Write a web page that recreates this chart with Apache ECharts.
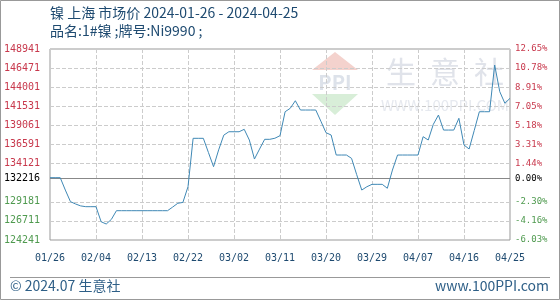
<!DOCTYPE html>
<html><head><meta charset="utf-8">
<script src="https://cdn.jsdelivr.net/npm/echarts@6/dist/echarts.min.js"></script>
<style>html,body{margin:0;padding:0;background:#fff}#c{width:560px;height:300px}</style>
</head><body><div id="c"></div>
<script>
const dates = [
'01/26','01/27','01/28','01/29','01/30','01/31',
'02/01','02/02','02/03','02/04','02/05','02/06','02/07','02/08','02/09','02/10','02/11','02/12','02/13','02/14','02/15','02/16','02/17','02/18','02/19','02/20','02/21','02/22','02/23','02/24','02/25','02/26','02/27','02/28','02/29',
'03/01','03/02','03/03','03/04','03/05','03/06','03/07','03/08','03/09','03/10','03/11','03/12','03/13','03/14','03/15','03/16','03/17','03/18','03/19','03/20','03/21','03/22','03/23','03/24','03/25','03/26','03/27','03/28','03/29','03/30','03/31',
'04/01','04/02','04/03','04/04','04/05','04/06','04/07','04/08','04/09','04/10','04/11','04/12','04/13','04/14','04/15','04/16','04/17','04/18','04/19','04/20','04/21','04/22','04/23','04/24','04/25'];
const prices = [
132300,132300,132300,130700,129200,128900,128650,128550,128550,128550,
126600,126310,126900,128030,128030,128030,128030,128030,128030,128030,
128030,128030,128030,128030,128500,128990,129100,131130,137390,137390,
137390,135550,133720,135900,137800,138240,138240,138240,138555,137170,
134710,136000,137260,137260,137400,137730,140830,141270,142250,141050,
141050,141050,141050,139600,138115,137820,135230,135230,135230,134800,
132700,130700,131130,131440,131440,131440,130930,133290,135230,135230,
135230,135230,135230,137600,137170,139200,140400,138460,138460,138460,
139980,136520,136010,138400,140830,140830,140830,146870,143420,141920,
142560];
const basePrice = 132216;
const xTickLabels = ['01/26','02/04','02/13','02/22','03/02','03/11','03/20','03/29','04/07','04/16','04/25'];
const yTicks = [124241,126711,129181,134121,136591,139061,141531,144001,146471,148941];
const yMin = 124241, yMax = 148941;
const titleText = '镍 上海 市场价 2024-01-26 - 2024-04-25';
const subTitleText = '品名:1#镍 ;牌号:Ni9990 ;';
const footLeft = '© 2024.07 生意社';
const footRight = 'www.100PPI.com';

const RED = '#c8384c', GREEN = '#4f9a4f', TXT = '#1e4a70';
const MONO = '"DejaVu Sans Mono", monospace';
const CJK = '"Noto Sans CJK SC", "Noto Sans", sans-serif';
const isTick = (i, v) => xTickLabels.indexOf(v) >= 0;
const pct = v => ((v - basePrice) / basePrice * 100).toFixed(2) + '%';
const cls = v => v > basePrice ? 'up' : (v < basePrice ? 'dn' : 'eq');

const chart = echarts.init(document.getElementById('c'), null, {renderer: 'canvas'});
chart.setOption({
  animation: false,
  grid: {left: 50, right: 50, top: 49, bottom: 60, show: true, borderColor: '#999', borderWidth: 1, backgroundColor: 'transparent'},
  xAxis: {
    type: 'category', data: dates, boundaryGap: false,
    axisLine: {show: false}, axisTick: {show: false},
    axisLabel: {interval: isTick, color: TXT, fontFamily: MONO, fontSize: 10, margin: 13},
    splitLine: {show: true, interval: isTick, lineStyle: {type: 'dashed', color: '#ccc'}}
  },
  yAxis: [{
    type: 'value', min: yMin, max: yMax, position: 'left',
    axisLine: {show: false},
    axisTick: {show: false, customValues: yTicks},
    axisLabel: {customValues: yTicks, margin: 10, fontFamily: MONO, fontSize: 10,
      formatter: v => '{' + cls(v) + '|' + Math.round(v) + '}',
      rich: {up: {color: RED, fontFamily: MONO, fontSize: 10}, dn: {color: GREEN, fontFamily: MONO, fontSize: 10}, eq: {color: '#000'}}},
    splitLine: {show: true, lineStyle: {type: 'dashed', color: '#ccc'}}
  }, {
    type: 'value', min: yMin, max: yMax, position: 'right',
    axisLine: {show: false},
    axisTick: {show: false, customValues: yTicks},
    axisLabel: {customValues: yTicks, margin: 5, fontFamily: MONO, fontSize: 9,
      formatter: v => '{' + cls(v) + '|' + pct(v) + '}',
      rich: {up: {color: RED, fontFamily: MONO, fontSize: 9}, dn: {color: GREEN, fontFamily: MONO, fontSize: 9}, eq: {color: '#000'}}},
    splitLine: {show: false}
  }],
  series: [{
    type: 'line', data: prices, yAxisIndex: 0, showSymbol: false, symbol: 'none',
    lineStyle: {color: '#3f88b5', width: 1}, z: 5,
    markLine: {
      silent: true, symbol: ['none', 'none'], animation: false,
      lineStyle: {color: '#888', type: 'solid', width: 1},
      data: [
        {yAxis: basePrice, label: {position: 'start', distance: 10, formatter: String(basePrice), color: '#000', fontFamily: MONO, fontSize: 10}},
        {yAxis: basePrice, label: {position: 'end', distance: 5, formatter: pct(basePrice), color: '#000', fontFamily: MONO, fontSize: 9}}
      ]
    }
  }],
  graphic: [
    {type: 'rect', shape: {x: 0.5, y: 0.5, width: 559, height: 299}, style: {fill: 'none', stroke: '#999', lineWidth: 1}, z: -10},
    {type: 'text', left: 50, top: 6, style: {text: titleText, font: '14px ' + CJK, fill: TXT}},
    {type: 'text', left: 50, top: 24, style: {text: subTitleText, font: '14px ' + CJK, fill: TXT}},
    {type: 'line', shape: {x1: 10, y1: 277.5, x2: 550, y2: 277.5}, style: {stroke: '#999', lineWidth: 1}},
    {type: 'text', left: 10, top: 279, style: {text: footLeft, font: '14px ' + CJK, fill: '#2e5f87'}},
    {type: 'text', right: 11, top: 279, style: {text: footRight, font: '14px ' + CJK, fill: '#2e5f87'}},
    // watermark
    {type: 'polygon', shape: {points: [[312, 70], [335, 52], [358, 70]]}, style: {fill: '#f4d2cd'}, z: -5},
    {type: 'text', x: 335, y: 82, style: {text: 'PPI', font: 'bold 20px ' + CJK, fill: '#dde2ea', textAlign: 'center', textVerticalAlign: 'middle'}, z: -5},
    {type: 'polygon', shape: {points: [[312, 94], [358, 94], [335, 115]]}, style: {fill: '#d8eed8'}, z: -5},
    {type: 'text', x: 401, y: 72, style: {text: '生', font: '30px ' + CJK, fill: '#e0e3ea', textAlign: 'center', textVerticalAlign: 'middle'}, z: -5},
    {type: 'text', x: 445, y: 72, style: {text: '意', font: '30px ' + CJK, fill: '#e0e3ea', textAlign: 'center', textVerticalAlign: 'middle'}, z: -5},
    {type: 'text', x: 489, y: 72, style: {text: '社', font: '30px ' + CJK, fill: '#e0e3ea', textAlign: 'center', textVerticalAlign: 'middle'}, z: -5},
    {type: 'text', x: 445, y: 105, style: {text: 'WWW.100PPI.COM', font: '15px ' + CJK, fill: '#e6e9ef', textAlign: 'center', textVerticalAlign: 'middle'}, z: -5}
  ]
});
</script></body></html>
